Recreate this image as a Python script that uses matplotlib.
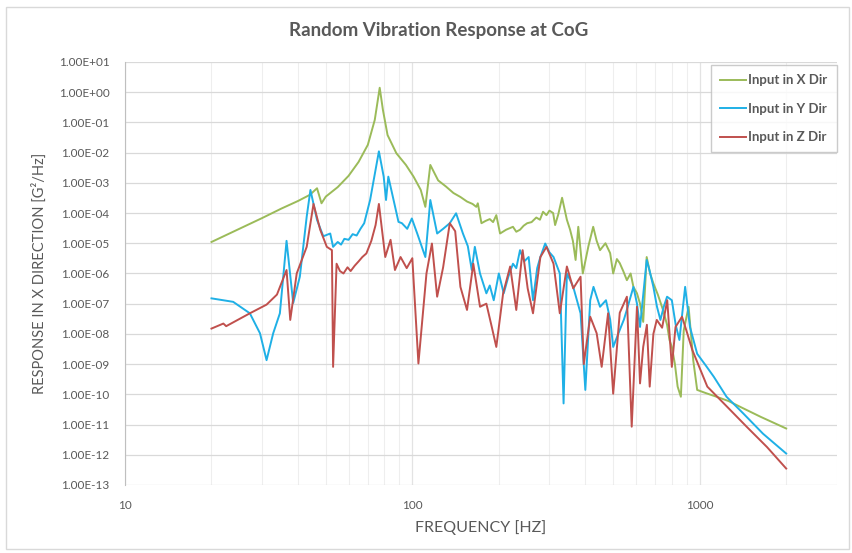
import numpy as np
import matplotlib
matplotlib.use("Agg")
import matplotlib.pyplot as plt
from matplotlib.ticker import FixedLocator, FuncFormatter, NullFormatter
from matplotlib.patches import Rectangle

plt.rcParams['font.family'] = ['Lato', 'DejaVu Sans']

# Input in X Dir
x_freq = [20, 25, 30, 35, 40, 44, 46.6, 48.3, 50, 55, 60, 65, 70, 74, 77, 79, 82, 88, 95, 101,
          107, 111, 115.5, 123, 131, 139, 147, 155, 162, 167, 169, 174, 180, 186, 191, 196, 202,
          212, 224, 230, 237, 244, 251, 260, 270, 278, 285, 293, 300, 309, 314, 322, 332, 345,
          354, 362, 370, 378, 392, 410, 426, 438, 450, 470, 488, 500, 515, 527, 542, 558, 575,
          588, 605, 620, 636, 654, 672, 690, 715, 745, 770, 785, 800, 820, 838, 860, 880, 915,
          950, 980, 1050, 1145, 1260, 1380, 1630, 2000]
x_resp = [1.1e-5, 3.0e-5, 6.8e-5, 1.4e-4, 2.5e-4, 4.0e-4, 6.6e-4, 2.1e-4, 3.5e-4, 7.2e-4,
          1.7e-3, 4.9e-3, 1.8e-2, 1.2e-1, 1.4, 2.6e-1, 3.8e-2, 9.5e-3, 3.9e-3, 1.6e-3,
          5.8e-4, 1.6e-4, 3.9e-3, 1.2e-3, 7.5e-4, 4.6e-4, 3.4e-4, 2.4e-4, 2.0e-4, 1.6e-4,
          2.1e-4, 4.6e-5, 5.5e-5, 6.3e-5, 5.0e-5, 8.5e-5, 2.1e-5, 2.8e-5, 3.5e-5, 2.4e-5,
          2.8e-5, 3.8e-5, 4.6e-5, 5.0e-5, 7.1e-5, 6.0e-5, 1.1e-4, 8.5e-5, 1.2e-4, 1.0e-4,
          4.0e-5, 9.0e-5, 3.2e-4, 6.0e-5, 2.8e-5, 1.2e-5, 2.8e-6, 3.5e-5, 1.0e-6, 8.0e-6,
          3.5e-5, 1.2e-5, 5.9e-6, 1.0e-5, 4.7e-6, 1.0e-6, 3.0e-6, 2.2e-6, 1.2e-6, 6.0e-7,
          1.0e-6, 3.6e-7, 2.2e-7, 1.0e-7, 2.5e-8, 3.5e-6, 1.0e-6, 4.7e-7, 2.0e-7, 6.3e-8,
          2.0e-8, 6.3e-9, 3.7e-9, 1.0e-9, 1.8e-10, 8.3e-11, 1.3e-8, 7.9e-8, 1.3e-9, 1.4e-10,
          1.1e-10, 8.3e-11, 6.0e-11, 3.9e-11, 1.8e-11, 7.4e-12]

# Input in Y Dir
y_freq = [20, 23.8, 27.2, 29.5, 31.1, 32.8, 34.6, 36.5, 38.5, 40.6, 42.9, 44.2, 46.6, 49, 51.8,
          53, 55, 56.5, 58, 60, 62, 64, 66, 68, 71.3, 76.5, 79.5, 81, 82.5, 85.7, 89.5, 92, 96,
          99.6, 104, 111, 115.5, 122, 128, 135, 142, 150, 156, 161, 165, 172, 181, 186, 192,
          200, 208, 216, 224, 230, 237, 245, 254, 263, 272, 279, 290, 300, 310, 326, 336, 345,
          354, 363, 385, 400, 416, 427, 440, 450, 472, 488, 500, 527, 545, 558, 588, 605, 620,
          654, 670, 690, 710, 730, 750, 770, 800, 825, 850, 890, 925, 980, 1050, 1120, 1240,
          1420, 1660, 2000]
y_resp = [1.5e-7, 1.15e-7, 4.8e-8, 1.05e-8, 1.35e-9, 1.05e-8, 4.8e-8, 1.2e-5, 1.05e-7, 7.8e-7,
          7.6e-5, 5.8e-4, 5.9e-5, 1.7e-5, 2.1e-5, 7.6e-6, 1.1e-5, 9.0e-6, 1.4e-5, 1.3e-5,
          2.0e-5, 1.8e-5, 3.0e-5, 4.6e-5, 2.7e-4, 1.1e-2, 1.6e-3, 2.7e-4, 1.6e-3, 3.2e-4,
          5.1e-5, 4.6e-5, 3.0e-5, 6.6e-5, 2.1e-5, 3.5e-6, 2.7e-4, 2.1e-5, 3.0e-5, 4.6e-5,
          9.8e-5, 2.1e-5, 8.0e-6, 1.3e-6, 7.6e-6, 1.0e-6, 2.2e-7, 4.0e-7, 1.3e-7, 1.0e-6,
          2.2e-7, 8.0e-7, 2.1e-6, 1.5e-6, 5.9e-6, 2.5e-6, 3.5e-6, 1.3e-7, 1.5e-6, 3.5e-6,
          9.8e-6, 5.0e-6, 3.5e-6, 1.0e-6, 5.0e-11, 1.0e-6, 6.0e-7, 3.6e-7, 4.8e-8, 1.4e-10,
          1.3e-7, 3.6e-7, 1.5e-7, 7.9e-8, 1.3e-7, 3.0e-8, 3.7e-9, 1.35e-8, 3.0e-8, 6.3e-8,
          3.6e-7, 1.0e-7, 1.7e-8, 2.8e-6, 1.2e-6, 3.6e-7, 8.0e-8, 2.9e-8, 8.0e-8, 1.7e-7,
          1.3e-7, 2.0e-8, 6.3e-9, 3.6e-7, 1.7e-8, 2.2e-9, 9.0e-10, 3.8e-10, 8.3e-11, 2.3e-11,
          5.0e-12, 1.1e-12]

# Input in Z Dir
z_freq = [20, 22.0, 22.5, 27.2, 31.1, 33.8, 36.5, 37.6, 39.6, 42.9, 45.3, 47.8, 50.4, 52.5, 53,
          54.5, 56, 57.6, 59.5, 61, 63, 65, 67, 69.2, 72, 74.5, 76.5, 80.5, 84, 87, 91, 95.6,
          100, 105, 112, 117, 122, 128, 135, 141, 147, 155, 163, 172, 181, 189, 196, 207, 219,
          230, 242, 252, 263, 279, 293, 310, 326, 345, 363, 385, 395, 416, 438, 456, 480, 500,
          527, 558, 580, 605, 620, 636, 655, 670, 690, 709, 740, 771, 800, 824, 868, 905, 943,
          1063, 1245, 1460, 1715, 2000]
z_resp = [1.5e-8, 2.2e-8, 1.8e-8, 4.8e-8, 9.3e-8, 2.0e-7, 1.3e-6, 2.9e-8, 1.0e-6, 7.6e-6,
          2.0e-4, 2.8e-5, 7.6e-6, 5.9e-6, 8.1e-10, 2.1e-6, 1.2e-6, 1.0e-6, 1.6e-6, 1.2e-6,
          1.8e-6, 2.5e-6, 3.5e-6, 4.6e-6, 1.2e-5, 4.0e-5, 2.0e-4, 3.5e-6, 1.3e-5, 1.3e-6,
          3.5e-6, 1.5e-6, 3.2e-6, 1.05e-9, 1.0e-6, 9.8e-6, 1.7e-7, 1.6e-6, 4.6e-5, 2.5e-5,
          3.6e-7, 6.2e-8, 2.1e-6, 7.9e-8, 1.0e-7, 1.7e-8, 3.7e-9, 2.2e-7, 1.7e-6, 6.2e-8,
          5.9e-6, 3.2e-7, 4.8e-8, 3.5e-6, 7.6e-6, 2.1e-6, 4.8e-8, 1.7e-6, 3.2e-7, 7.8e-7,
          1.0e-9, 3.7e-8, 1.05e-8, 8.1e-10, 4.8e-8, 1.05e-10, 5.0e-8, 1.7e-7, 8.5e-12, 7.9e-8,
          2.3e-10, 3.7e-9, 2.0e-8, 1.8e-10, 1.0e-8, 2.9e-8, 1.6e-8, 1.3e-7, 8.1e-10, 1.7e-8,
          3.7e-8, 1.05e-8, 2.9e-9, 1.8e-10, 3.9e-11, 8.3e-12, 1.8e-12, 3.5e-13]

labels = ['Input in X Dir', 'Input in Y Dir', 'Input in Z Dir']
y_ticks = [10.0 ** e for e in range(1, -14, -1)]
x_ticks = [10, 100, 1000]

grey = '#595959'

fig = plt.figure(figsize=(8.53, 5.53), dpi=100)
fig.patches.append(Rectangle((0.007, 0.008), 0.988, 0.98, transform=fig.transFigure,
                             fill=False, edgecolor='#D9D9D9', linewidth=1.0))
ax = fig.add_axes([0.1465, 0.123, 0.8345, 0.765])

ax.plot(x_freq, x_resp, color='#9BBB59', lw=1.4, label=labels[0])
ax.plot(y_freq, y_resp, color='#1FB0E6', lw=1.4, label=labels[1])
ax.plot(z_freq, z_resp, color='#C0504D', lw=1.4, label=labels[2])

ax.set_xscale('log')
ax.set_yscale('log')
ax.set_xlim(10, 3000)
ax.set_ylim(1e-13, 10)

ax.yaxis.set_major_locator(FixedLocator(y_ticks))
ax.yaxis.set_major_formatter(FuncFormatter(lambda v, p: f"{v:.2E}"))
ax.yaxis.set_minor_locator(FixedLocator([]))
ax.xaxis.set_major_locator(FixedLocator(x_ticks))
ax.xaxis.set_major_formatter(FuncFormatter(lambda v, p: f"{int(v)}"))
ax.xaxis.set_minor_locator(FixedLocator([m * d for d in (10, 100, 1000) for m in range(2, 10)]))
ax.xaxis.set_minor_formatter(NullFormatter())

ax.grid(True, which='major', axis='y', color='#D9D9D9', lw=0.9)
ax.grid(True, which='major', axis='x', color='#E3E3E3', lw=0.9)
ax.grid(True, which='minor', axis='x', color='#EEEEEE', lw=0.8)
ax.set_axisbelow(True)

for s in ['top', 'right', 'bottom']:
    ax.spines[s].set_visible(False)
ax.spines['left'].set_color('#BFBFBF')
ax.tick_params(which='both', length=0, colors=grey, labelsize=8.5)
ax.tick_params(axis='y', pad=11)
ax.tick_params(axis='x', pad=11)

ax.set_xlabel('FREQUENCY [HZ]', color=grey, fontsize=11.5, labelpad=6)
ax.set_ylabel('RESPONSE IN X DIRECTION [G²/Hz]', color=grey, fontsize=10.5, labelpad=9)
fig.text(0.514, 0.945, 'Random Vibration Response at CoG', ha='center', va='center',
         color=grey, fontsize=13.5, fontweight='bold')

leg = ax.legend(loc='upper right', bbox_to_anchor=(1.0, 0.993), borderaxespad=0,
                fancybox=False, edgecolor='#BFBFBF', fontsize=9.5, labelspacing=1.25,
                handlelength=2.0, handletextpad=0.15, borderpad=0.7)
for t in leg.get_texts():
    t.set_color(grey)
    t.set_fontweight('bold')

fig.savefig('out.png', dpi=100)
